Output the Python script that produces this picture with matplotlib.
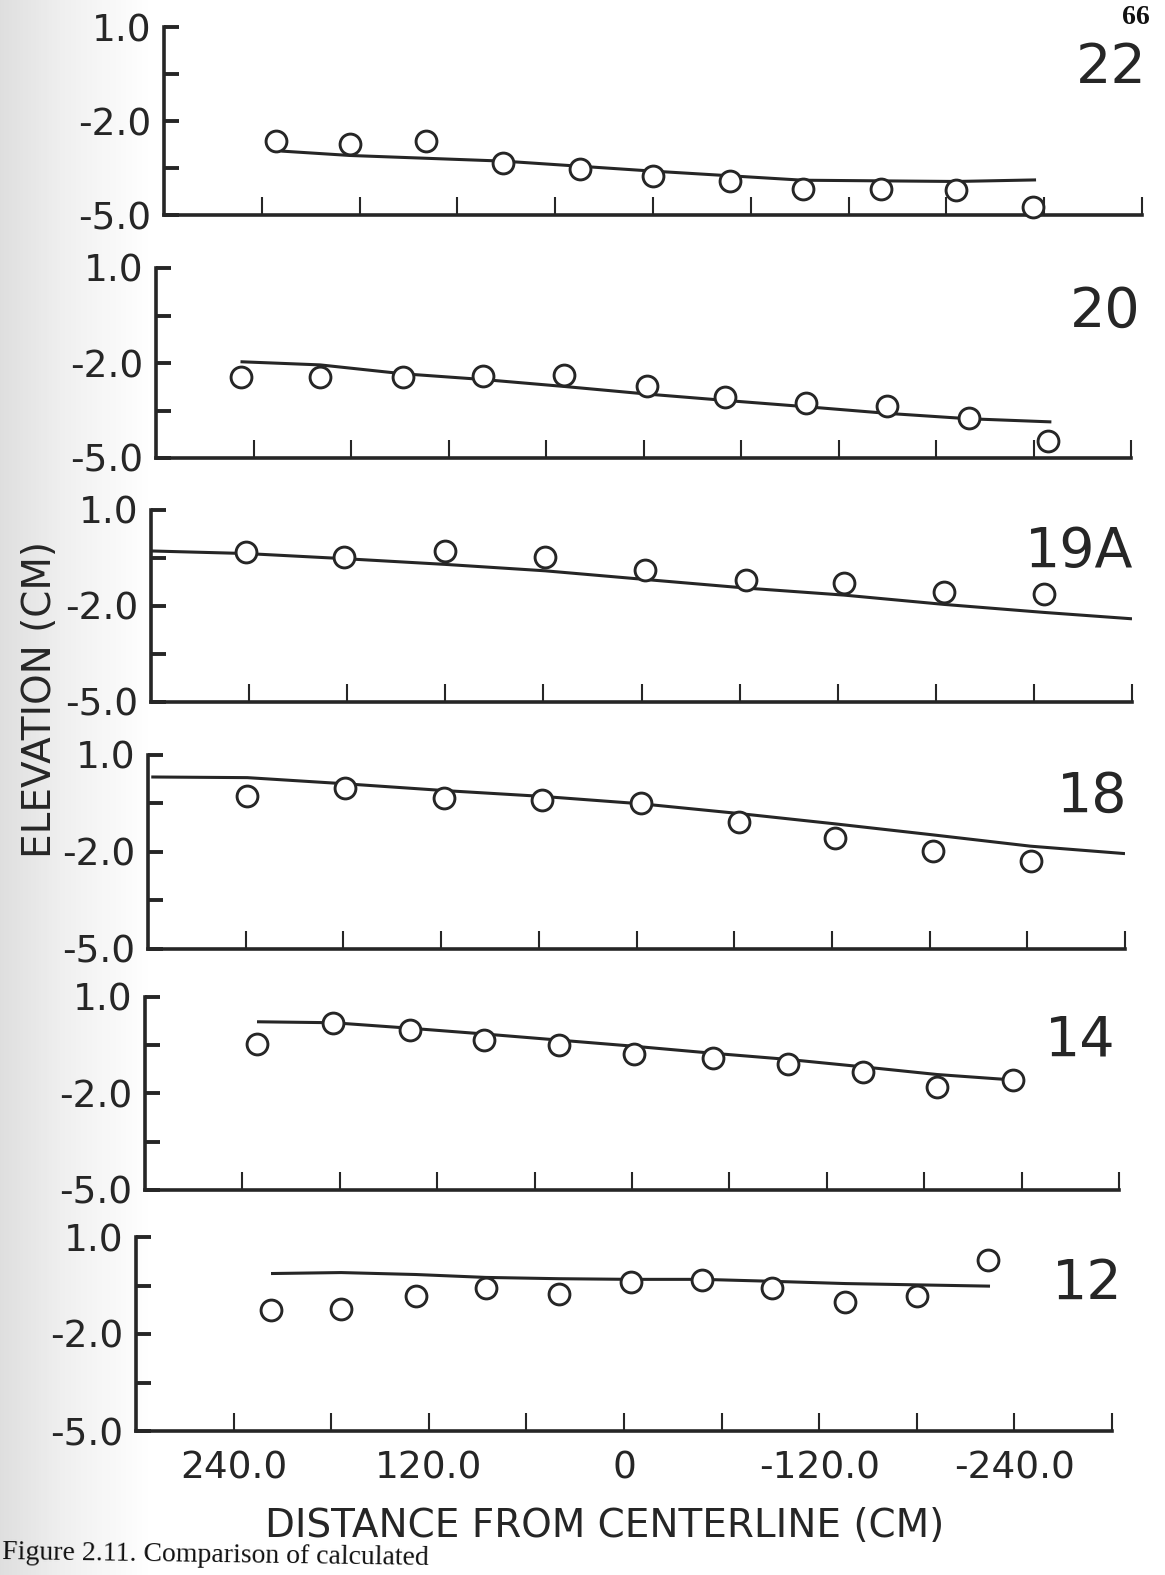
import matplotlib
matplotlib.use('Agg')
import matplotlib.pyplot as plt
import numpy as np

W, H = 1165, 1575

# run names, top to bottom
runs = ['22', '20', '19A', '18', '14', '12']

# measured (circles) and calculated (line), distance from centerline in cm, elevation in cm
x_obs_22 = [231, 186, 139, 92, 45, 0, -47, -92, -140, -186, -233]
y_obs_22 = [-2.63, -2.73, -2.64, -3.33, -3.52, -3.76, -3.91, -4.18, -4.16, -4.21, -4.76]
x_calc_22 = [228, 186, 92, 0, -92, -186, -235]
y_calc_22 = [-2.96, -3.10, -3.28, -3.60, -3.89, -3.93, -3.88]

x_obs_20 = [248, 199, 148, 99, 49, -2, -50, -100, -150, -200, -249]
y_obs_20 = [-2.44, -2.45, -2.45, -2.41, -2.37, -2.74, -3.08, -3.25, -3.35, -3.73, -4.45]
x_calc_20 = [248, 199, 148, 99, 49, -2, -50, -100, -150, -200, -251]
y_calc_20 = [-1.96, -2.06, -2.34, -2.52, -2.74, -2.98, -3.18, -3.38, -3.59, -3.76, -3.86]

x_obs_19a = [242, 182, 120, 59, -2, -64, -124, -185, -246]
y_obs_19a = [-0.30, -0.47, -0.28, -0.46, -0.88, -1.20, -1.29, -1.57, -1.63]
x_calc_19a = [300, 242, 182, 120, 59, -2, -64, -124, -185, -246, -300]
y_calc_19a = [-0.28, -0.36, -0.52, -0.70, -0.90, -1.17, -1.44, -1.66, -1.95, -2.20, -2.40]

x_obs_18 = [239, 179, 118, 58, -3, -63, -122, -182, -242]
y_obs_18 = [-0.27, -0.02, -0.32, -0.39, -0.49, -1.07, -1.58, -1.98, -2.28]
x_calc_18 = [298, 239, 179, 118, 58, -3, -63, -122, -182, -242, -300]
y_calc_18 = [0.32, 0.30, 0.11, -0.10, -0.28, -0.51, -0.81, -1.13, -1.47, -1.82, -2.05]

x_obs_14 = [231, 184, 137, 91, 45, -1, -50, -96, -142, -188, -235]
y_obs_14 = [-0.47, 0.20, -0.03, -0.34, -0.48, -0.77, -0.89, -1.07, -1.33, -1.80, -1.58]
x_calc_14 = [231, 184, 137, 91, 45, -1, -50, -96, -142, -188, -235]
y_calc_14 = [0.23, 0.20, 0.03, -0.15, -0.34, -0.53, -0.75, -0.94, -1.17, -1.41, -1.58]

x_obs_12 = [217, 174, 128, 85, 40, -4, -48, -91, -136, -180, -224]
y_obs_12 = [-1.25, -1.24, -0.83, -0.59, -0.76, -0.38, -0.33, -0.58, -1.01, -0.82, 0.28]
x_calc_12 = [217, 174, 128, 85, 40, -4, -48, -91, -136, -180, -225]
y_calc_12 = [-0.13, -0.10, -0.16, -0.25, -0.29, -0.31, -0.31, -0.37, -0.44, -0.48, -0.52]

obs = [(x_obs_22, y_obs_22), (x_obs_20, y_obs_20), (x_obs_19a, y_obs_19a),
       (x_obs_18, y_obs_18), (x_obs_14, y_obs_14), (x_obs_12, y_obs_12)]
calc = [(x_calc_22, y_calc_22), (x_calc_20, y_calc_20), (x_calc_19a, y_calc_19a),
        (x_calc_18, y_calc_18), (x_calc_14, y_calc_14), (x_calc_12, y_calc_12)]

y_ticks = [1.0, -0.5, -2.0, -3.5, -5.0]
y_ticklabels = ['1.0', '', '-2.0', '', '-5.0']
x_ticks = [240, 180, 120, 60, 0, -60, -120, -180, -240, -300]
x_ticklabels = ['240.0', '', '120.0', '', '0', '', '-120.0', '', '-240.0', '']

# panel boxes in pixels: left, right, top (1.0), bottom (-5.0)
boxes = [(164, 1142, 27, 215), (156, 1131, 268, 458), (151, 1132, 510, 702),
         (148, 1125, 755, 949), (145, 1119, 997, 1190), (136, 1112, 1237, 1431)]
# run label anchors (right edge, centre y)
label_pos = [(1147, 68), (1140, 312), (1133, 552), (1127, 797), (1116, 1040), (1123, 1284)]

ink = '#262626'

fig = plt.figure(figsize=(W / 100, H / 100), dpi=100)
fig.patch.set_facecolor('white')

# scanner shading on the left margin
bg = fig.add_axes([0, 0, 1, 1], zorder=-5)
shade = np.clip(1 - np.linspace(0, W, W) / 150, 0, 1)[None, :] * 0.22
bg.imshow(shade, cmap='Greys', vmin=0, vmax=1, aspect='auto', extent=[0, 1, 0, 1])
bg.axis('off')

for i, run in enumerate(runs):
    l, r, t, b = boxes[i]
    ax = fig.add_axes([l / W, 1 - b / H, (r - l) / W, (b - t) / H])
    ax.set_facecolor('none')
    ax.set_xlim(300, -300)
    ax.set_ylim(-5.0, 1.0)

    xc, yc = calc[i]
    ax.plot(xc, yc, color=ink, lw=2.2, zorder=2, solid_capstyle='butt')
    xo, yo = obs[i]
    ax.plot(xo, yo, 'o', ms=15, mfc='white', mec=ink, mew=2.1, zorder=3, clip_on=False)

    for s in ['top', 'right']:
        ax.spines[s].set_visible(False)
    for s in ['left', 'bottom']:
        ax.spines[s].set_linewidth(2.6)
        ax.spines[s].set_color(ink)

    ax.set_yticks(y_ticks)
    ax.set_yticklabels(y_ticklabels)
    ax.tick_params(axis='y', direction='in', length=11, width=2.8, pad=9,
                   labelsize=27, colors=ink)

    ax.set_xticks(x_ticks)
    if i == len(runs) - 1:
        ax.set_xticklabels(x_ticklabels)
    else:
        ax.set_xticklabels([''] * len(x_ticks))
    ax.tick_params(axis='x', direction='in', length=13, width=1.5, pad=14,
                   labelsize=27, colors=ink)

    lx, ly = label_pos[i]
    fig.text(lx / W, 1 - ly / H, run, ha='right', va='center', fontsize=40, color=ink)

fig.text(40 / W, 1 - 700 / H, 'ELEVATION (CM)', rotation=90, ha='center', va='center',
         fontsize=28, color=ink)
fig.text(605 / W, 1 - 1526 / H, 'DISTANCE FROM CENTERLINE (CM)', ha='center', va='center',
         fontsize=28, color=ink)
fig.text(1150 / W, 1 - 5 / H, '66', ha='right', va='top', fontsize=20, fontweight='bold',
         family='Liberation Serif', color='#111111')
fig.text(2 / W, 1 - 1571 / H, 'Figure 2.11. Comparison of calculated', ha='left', va='bottom',
         fontsize=20, family='Liberation Serif', color='#111111', rotation=-0.8)

fig.savefig('out.png', dpi=100)
